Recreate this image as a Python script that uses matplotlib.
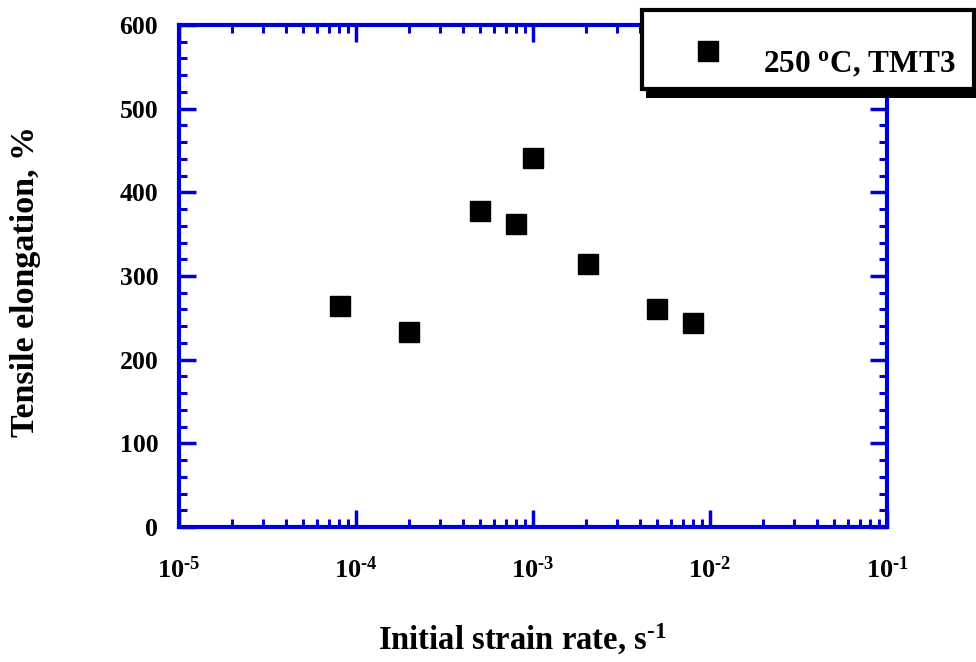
import math
import matplotlib
matplotlib.use("Agg")
import matplotlib.pyplot as plt
import matplotlib.ticker as mticker
from matplotlib.patches import Rectangle
from matplotlib.lines import Line2D

# ---- data ----
strain_rate = [8.1e-5, 2.0e-4, 5.0e-4, 8.0e-4, 1.0e-3, 2.05e-3, 5.0e-3, 8.0e-3]
elongation = [264, 233, 378, 362, 441, 314, 260, 244]
series_label = r"250 $^{\mathrm{o}}$C, TMT3"
x_label = "Initial strain rate, s$^{\\mathrm{\u20101}}$"
y_label = "Tensile elongation, %"
y_ticks = [0, 100, 200, 300, 400, 500, 600]

plt.rcParams['font.family'] = ['Liberation Serif', 'DejaVu Serif']
plt.rcParams['font.weight'] = 'bold'
plt.rcParams['mathtext.fontset'] = 'custom'
plt.rcParams['mathtext.rm'] = 'Liberation Serif:bold'
plt.rcParams['mathtext.it'] = 'Liberation Serif:bold:italic'
plt.rcParams['mathtext.bf'] = 'Liberation Serif:bold'

W, H = 976, 662
fig = plt.figure(figsize=(W / 100, H / 100), dpi=100)
ax = fig.add_axes([179 / W, 1 - 527 / H, (887 - 179) / W, (527 - 25) / H])

blue = '#0000D4'
ax.plot(strain_rate, elongation, linestyle='none', marker='s', ms=14.5,
        color='black', mec='black', zorder=5, clip_on=False)

ax.set_xscale('log')
ax.set_xlim(1e-5, 1e-1)
ax.set_ylim(0, 600)
ax.set_yticks(y_ticks)
ax.yaxis.set_minor_locator(mticker.MultipleLocator(20))
ax.xaxis.set_major_locator(mticker.LogLocator(base=10, numticks=10))
ax.xaxis.set_minor_locator(mticker.LogLocator(base=10, subs=range(2, 10), numticks=20))
ax.xaxis.set_minor_formatter(mticker.NullFormatter())
ax.xaxis.set_major_formatter(mticker.FuncFormatter(
    lambda v, p: "$\\mathrm{10^{\u2010%d}}$" % abs(round(math.log10(v)))))

for s in ax.spines.values():
    s.set_color(blue)
    s.set_linewidth(3)

ax.tick_params(which='both', direction='in', top=True, right=True, color=blue)
ax.tick_params(which='major', length=12, width=2.5)
ax.tick_params(which='minor', length=6, width=2.2)
ax.tick_params(axis='y', which='major', labelsize=18.5, pad=15)
ax.tick_params(axis='x', which='major', labelsize=19, pad=21)

ax.set_xlabel(x_label, fontsize=23.5, fontweight='bold')
ax.set_ylabel(y_label, fontsize=24.5, fontweight='bold')
ax.xaxis.set_label_coords(0.485, -0.19)
ax.yaxis.set_label_coords(-0.195, 0.49)

# ---- legend box (manual, with shadow) ----
def fx(px):
    return px / W

def fy(py):
    return 1 - py / H

bx0, bx1, by0, by1 = 642, 973.5, 10, 89
shadow = Rectangle((fx(bx0 + 4), fy(by1 + 9)), fx(bx1 - bx0), (by1 - by0) / H,
                   transform=fig.transFigure, facecolor='black', edgecolor='none', zorder=10)
frame = Rectangle((fx(bx0), fy(by1)), fx(bx1 - bx0), (by1 - by0) / H,
                  transform=fig.transFigure, facecolor='white', edgecolor='black',
                  linewidth=3, zorder=11)
fig.add_artist(shadow)
fig.add_artist(frame)
fig.add_artist(Line2D([fx(708)], [fy(51)], marker='s', ms=15, color='black',
                      linestyle='none', transform=fig.transFigure, zorder=12))
fig.text(fx(763), fy(72), series_label, fontsize=22.5, fontweight='bold',
         va='baseline', ha='left', zorder=12)

fig.savefig('out.png', dpi=100)
